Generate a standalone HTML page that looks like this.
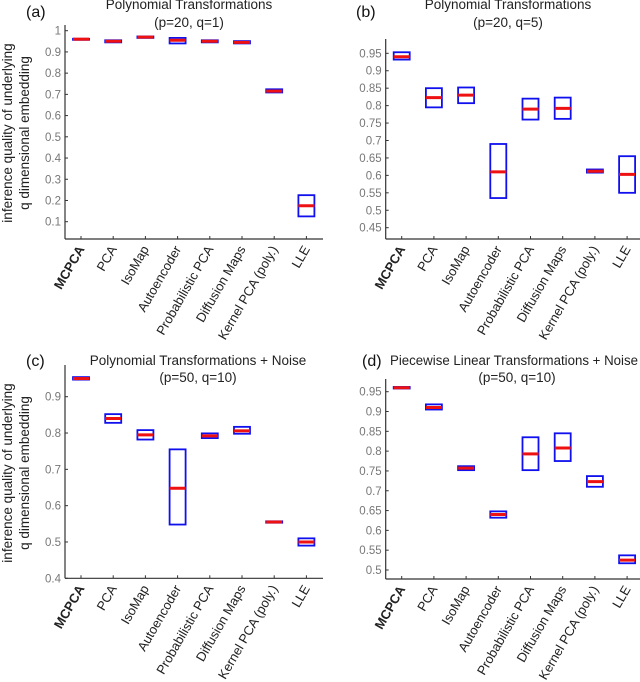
<!DOCTYPE html>
<html><head><meta charset="utf-8">
<style>
body{margin:0;background:#fff;}
svg{display:block;font-family:"Liberation Sans",sans-serif;}
</style></head>
<body>
<svg id="fig" width="640" height="682" viewBox="0 0 640 682"></svg>
<script>
const categories = ["MCPCA","PCA","IsoMap","Autoencoder","Probabilistic PCA","Diffusion Maps","Kernel PCA (poly.)","LLE"];
// panel a
const aMed = [0.96,0.95,0.97,0.955,0.95,0.945,0.715,0.175];
const aLo  = [0.957,0.945,0.966,0.94,0.945,0.94,0.709,0.125];
const aHi  = [0.962,0.955,0.973,0.966,0.955,0.951,0.724,0.225];
const aTicks = [0.1,0.2,0.3,0.4,0.5,0.6,0.7,0.8,0.9,1];
const aTickLabels = ["0.1","0.2","0.3","0.4","0.5","0.6","0.7","0.8","0.9","1"];
// panel b
const bMed = [0.94,0.823,0.83,0.61,0.79,0.792,0.612,0.603];
const bLo  = [0.932,0.795,0.807,0.535,0.76,0.762,0.608,0.55];
const bHi  = [0.953,0.85,0.852,0.69,0.82,0.823,0.617,0.655];
const bTicks = [0.45,0.5,0.55,0.6,0.65,0.7,0.75,0.8,0.85,0.9,0.95];
const bTickLabels = ["0.45","0.5","0.55","0.6","0.65","0.7","0.75","0.8","0.85","0.9","0.95"];
// panel c
const cMed = [0.95,0.84,0.795,0.648,0.792,0.806,0.555,0.5];
const cLo  = [0.947,0.828,0.782,0.548,0.786,0.798,0.553,0.49];
const cHi  = [0.954,0.852,0.808,0.755,0.799,0.817,0.557,0.51];
const cTicks = [0.4,0.5,0.6,0.7,0.8,0.9];
const cTickLabels = ["0.4","0.5","0.6","0.7","0.8","0.9"];
// panel d
const dMed = [0.96,0.91,0.757,0.64,0.793,0.808,0.723,0.525];
const dLo  = [0.958,0.905,0.752,0.632,0.752,0.775,0.71,0.517];
const dHi  = [0.962,0.918,0.762,0.648,0.835,0.845,0.737,0.537];
const dTicks = [0.5,0.55,0.6,0.65,0.7,0.75,0.8,0.85,0.9,0.95];
const dTickLabels = ["0.5","0.55","0.6","0.65","0.7","0.75","0.8","0.85","0.9","0.95"];

const NS="http://www.w3.org/2000/svg";
const svg=document.getElementById('fig');
function mk(tag,attrs,parent,text){const e=document.createElementNS(NS,tag);for(const k in attrs)e.setAttribute(k,attrs[k]);if(text!==undefined)e.textContent=text;(parent||svg).appendChild(e);return e;}

function panel(id,cfg){
  const g=mk('g',{});
  
  
  const {x0,yb,yt,v0,py0,v1,py1,med,lo,hi,ticks,tl}=cfg;
  const sy=v=>py0+(v-v0)*(py1-py0)/(v1-v0);
  const step=32.2;
  const sx=i=>x0+16+i*step;
  const ya=mk('line',{x1:x0,y1:yt,x2:x0,y2:yb,stroke:'#333','stroke-width':1.2},g);
  
  
  const xa=mk('line',{x1:x0,y1:yb,x2:x0+258,y2:yb,stroke:'#333','stroke-width':1.2},g);
  
  
  ticks.forEach((t,i)=>{
    const y=sy(t);
    mk('line',{x1:x0,y1:y,x2:x0+3,y2:y,stroke:'#333','stroke-width':1},g);
    const tx=mk('text',{x:x0-4,y:y+4,'text-anchor':'end','font-size':11.5,fill:'#777'},g,tl[i]);
    
    
  });
  categories.forEach((c,i)=>{
    const x=sx(i);
    mk('line',{x1:x,y1:yb,x2:x,y2:yb-3,stroke:'#333','stroke-width':1},g);
    const tx=mk('text',{x:0,y:0,'text-anchor':'end','font-size':13,fill:'#222','font-weight':i===0?'bold':'normal',transform:`translate(${x+4},${yb+10}) rotate(-60)`},g,c);
    
    
    const b=mk('rect',{x:x-8,y:sy(hi[i]),width:16,height:Math.max(sy(lo[i])-sy(hi[i]),1),fill:'none',stroke:'#1010ee','stroke-width':1.8},g);
    
    
    const m=mk('line',{x1:x-8,y1:sy(med[i]),x2:x+8,y2:sy(med[i]),stroke:'#ee1111','stroke-width':3},g);
    
    
  });
}
panel('a',{x0:65,yb:239,yt:25,v0:1,py0:30.7,v1:0.1,py1:221.7,med:aMed,lo:aLo,hi:aHi,ticks:aTicks,tl:aTickLabels});
panel('b',{x0:385.7,yb:239,yt:39,v0:0.95,py0:53.3,v1:0.45,py1:227.7,med:bMed,lo:bLo,hi:bHi,ticks:bTicks,tl:bTickLabels});
panel('c',{x0:65,yb:578.3,yt:365,v0:0.9,py0:396.7,v1:0.4,py1:578.3,med:cMed,lo:cLo,hi:cHi,ticks:cTicks,tl:cTickLabels});
panel('d',{x0:385.7,yb:579,yt:379,v0:0.95,py0:391.7,v1:0.5,py1:570,med:dMed,lo:dLo,hi:dHi,ticks:dTicks,tl:dTickLabels});

function txt(name,attrs,s){const e=mk('text',attrs,svg,s);return e;}
txt('panel-label-a',{x:26,y:17,'font-size':16,fill:'#111'},'(a)');
txt('title-a-line1',{x:189,y:9,'text-anchor':'middle','font-size':13.5,fill:'#222'},'Polynomial Transformations');
txt('title-a-line2',{x:189,y:27,'text-anchor':'middle','font-size':13.5,fill:'#222'},'(p=20, q=1)');
txt('panel-label-b',{x:356,y:17,'font-size':16,fill:'#111'},'(b)');
txt('title-b-line1',{x:508,y:9,'text-anchor':'middle','font-size':13.5,fill:'#222'},'Polynomial Transformations');
txt('title-b-line2',{x:508,y:27,'text-anchor':'middle','font-size':13.5,fill:'#222'},'(p=20, q=5)');
txt('panel-label-c',{x:26,y:366,'font-size':16,fill:'#111'},'(c)');
txt('title-c-line1',{x:198,y:365,'text-anchor':'middle','font-size':13.5,fill:'#222'},'Polynomial Transformations + Noise');
txt('title-c-line2',{x:198,y:382,'text-anchor':'middle','font-size':13.5,fill:'#222'},'(p=50, q=10)');
txt('panel-label-d',{x:362,y:366,'font-size':16,fill:'#111'},'(d)');
txt('title-d-line1',{x:390,y:365,'font-size':13.5,fill:'#222',textLength:248,lengthAdjust:'spacingAndGlyphs'},'Piecewise Linear Transformations + Noise');
txt('title-d-line2',{x:517,y:382,'text-anchor':'middle','font-size':13.5,fill:'#222'},'(p=50, q=10)');
[[133,'a'],[473,'c']].forEach(([cy,p])=>{
  txt('y-axis-title-'+p+'-line1',{x:0,y:0,'text-anchor':'middle','font-size':13.5,fill:'#222',transform:`translate(12,${cy}) rotate(-90)`},'inference quality of underlying');
  txt('y-axis-title-'+p+'-line2',{x:0,y:0,'text-anchor':'middle','font-size':13.5,fill:'#222',transform:`translate(29,${cy}) rotate(-90)`},'q dimensional embedding');
});
</script>
</body></html>
